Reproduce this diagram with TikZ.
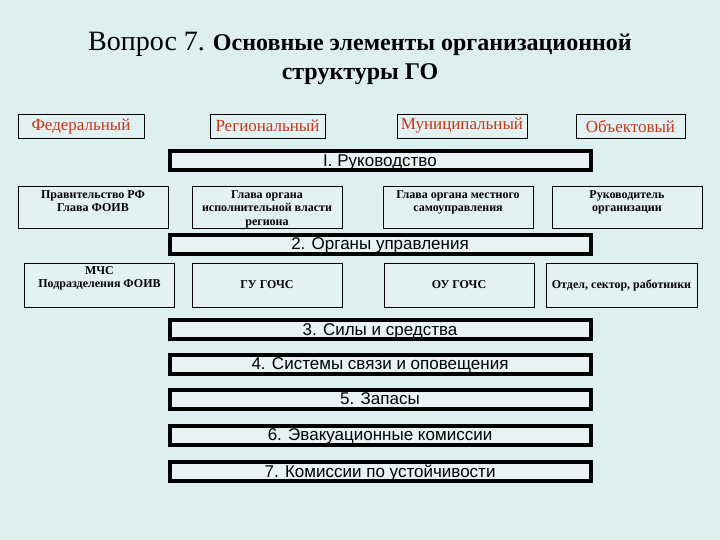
\documentclass[tikz,border=0pt]{standalone}
\usepackage{fontspec}
\setmainfont{Liberation Serif}
\setsansfont{Liberation Sans}
\usepackage{xcolor}

\definecolor{bgcol}{HTML}{DEEFF0}
\definecolor{boxcol}{HTML}{E2F1F2}
\definecolor{barcol}{HTML}{E8F4F4}
\definecolor{lvlred}{HTML}{C8361A}

\begin{document}
\begin{tikzpicture}[
    x=1pt, y=-1pt,
    level/.style={
        rectangle,
        draw,
        fill=boxcol,
        minimum height=24pt,
        inner sep=0pt,
        text=lvlred,
        font=\fontsize{17}{18}\selectfont
    },
    bar/.style={
        rectangle,
        draw,
        line width=4pt,
        fill=barcol,
        minimum width=421pt,
        minimum height=19pt,
        inner sep=0pt,
        text depth=0pt,
        font=\sffamily\fontsize{17}{18}\selectfont
    },
    unit/.style={rectangle, draw, fill=boxcol, minimum width=150pt, minimum height=42pt, inner sep=0pt},
    unittext/.style={align=center, inner sep=2.5pt, font=\bfseries\fontsize{12}{13.5}\selectfont}
]

% Background
\fill[bgcol] (0,0) rectangle (720,540);

% Title
\node[align=center, font=\fontsize{24}{29}\selectfont] (title) at (360,58) {
    {\fontsize{28}{29}\selectfont Вопрос 7.} \textbf{Основные элементы организационной} \\
    \textbf{структуры ГО}
};

% Levels
\node[level, minimum width=126pt] (fed) at (81,126) {Федеральный};
\node[level, minimum width=115pt] (reg) at (267.5,126) {Региональный};
\node[level, minimum width=130pt] (mun) at (462,126) {Муниципальный};
\node[level, minimum width=109pt] (obj) at (630.5,126) {Объектовый};

% 1. Leadership
\node[bar] (lead) at (380,160.5) {I. Руководство};

\node[unit] (gov) at (93,207) {};
\node[unittext, anchor=north, yshift=-2pt] (govtxt) at (gov.north) {Правительство РФ \\ Глава ФОИВ};
\node[unit] (head) at (267,207) {};
\node[unittext, anchor=north, yshift=-2pt] (headtxt) at (head.north) {Глава органа \\ исполнительной власти \\ региона};
\node[unit] (local) at (458,207) {};
\node[unittext, anchor=north, yshift=-2pt] (localtxt) at (local.north) {Глава органа местного \\ самоуправления};
\node[unit] (chief) at (627,207) {};
\node[unittext, anchor=north, yshift=-2pt] (chieftxt) at (chief.north) {Руководитель \\ организации};

% 2. Control bodies
\node[bar] (ctrl) at (380,244) {2. Органы управления};

\node[unit, minimum height=44pt] (mchs) at (99.5,285) {};
\node[unittext, anchor=north, yshift=-1pt] (mchstxt) at (mchs.north) {МЧС \\ Подразделения ФОИВ};
\node[unit, minimum height=44pt, unittext] (gu) at (267,285) {ГУ ГОЧС};
\node[unit, minimum height=44pt, unittext] (ou) at (459,285) {ОУ ГОЧС};
\node[unit, minimum height=44pt, minimum width=151pt, unittext] (dept) at (621.5,285) {Отдел, сектор, работники};

% 3-7
\node[bar] (forces) at (380,329.5) {3. Силы и средства};
\node[bar] (comm) at (380,364) {4. Системы связи и оповещения};
\node[bar] (stock) at (380,399) {5. Запасы};
\node[bar] (evac) at (380,435) {6. Эвакуационные комиссии};
\node[bar] (stab) at (380,471.5) {7. Комиссии по устойчивости};

\end{tikzpicture}
\end{document}
